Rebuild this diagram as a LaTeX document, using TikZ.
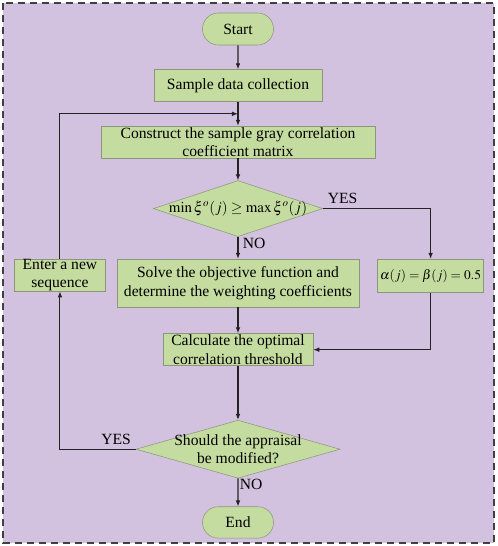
\documentclass[tikz,border=0pt]{standalone}
\usepackage{mathptmx}
\usepackage{fontspec}
\setmainfont{Liberation Serif}
\definecolor{flowbg}{RGB}{210,193,223}
\definecolor{flowgreen}{RGB}{197,220,160}
\definecolor{flowedge}{RGB}{140,150,125}
\definecolor{flowline}{RGB}{35,35,35}
\usetikzlibrary{positioning}
\usetikzlibrary{shapes.geometric,shapes.misc,arrows.meta}
\tikzset{
  every node/.style={font=\fontsize{11.7}{13.7}\selectfont},
  terminal/.style={rounded rectangle, draw=flowedge, fill=flowgreen, minimum width=60pt, minimum height=24pt},
  process/.style={rectangle, draw=flowedge, fill=flowgreen, align=center, inner xsep=2pt, inner ysep=0pt, minimum height=24pt},
  decision/.style={diamond, draw=flowedge, fill=flowgreen, align=center, inner xsep=-40pt, inner ysep=0pt},
  flow/.style={draw=flowline, line width=0.8pt, -{Latex[length=4.5pt,width=3.5pt]}},
}

\begin{document}
\begin{tikzpicture}
  \useasboundingbox (-178.5pt,21.75pt) rectangle (195pt,-387.75pt);
  \draw [fill=flowbg, draw=black!75, line width=1.1pt, dash pattern=on 5.5pt off 3.5pt] (-176.25pt,19.5pt) rectangle (192pt,-385.5pt);

  \node [terminal] (start) {Start};
  \node [process, minimum width=126pt, below=18pt of start] (sample) {Sample data collection};
  \node [process, minimum width=205.5pt, below=18pt of sample] (matrix) {Construct the sample gray correlation\\coefficient matrix};
  \node [decision, minimum width=127pt, minimum height=42pt, below=16.5pt of matrix, font=\fontsize{11.2}{13.7}\selectfont] (cmp) {$\min\xi^{o}(j)\geq\max\xi^{o}(j)$};
  \node [process, minimum width=181.5pt, minimum height=36pt, below=16.5pt of cmp] (solve) {Solve the objective function and\\determine the weighting coefficients};
  \node [process, minimum width=78.75pt, minimum height=25pt, below right=0pt and 13.5pt of solve.north east, font=\fontsize{10}{12}\selectfont] (equal) {$\alpha(j)=\beta(j)=0.5$};
  \node [process, minimum width=68.25pt, below left=0pt and 8.25pt of solve.north west] (renew) {Enter a new\\sequence};
  \node [process, minimum width=112.5pt, below=19.5pt of solve] (thresh) {Calculate the optimal\\correlation threshold};
  \node [decision, minimum width=153pt, minimum height=43.5pt, below=40.5pt of thresh] (modify) {Should the appraisal\\be modified?};
  \node [terminal, minimum height=23.5pt, below=21pt of modify] (end) {End};

  \draw [flow] (start) -- (sample);
  \draw [flow] (sample) -- coordinate [midway] (join) (matrix);
  \draw [flow] (matrix) -- (cmp);
  \draw [flow] (cmp) -- node [right, pos=0.3] {NO} (solve);
  \draw [flow] (cmp) -| node [above right, pos=0] {YES} (equal);
  \draw [flow] (solve) -- (thresh);
  \draw [flow] (equal) |- (thresh);
  \draw [flow] (thresh) -- (modify);
  \draw [flow] (modify) -- node [right, pos=0.2, inner sep=1pt] {NO} (end);
  \draw [flow] (modify) -| node [above left, pos=0] {YES} (renew);
  \draw [flow] (renew) |- (join);
\end{tikzpicture}
\end{document}
